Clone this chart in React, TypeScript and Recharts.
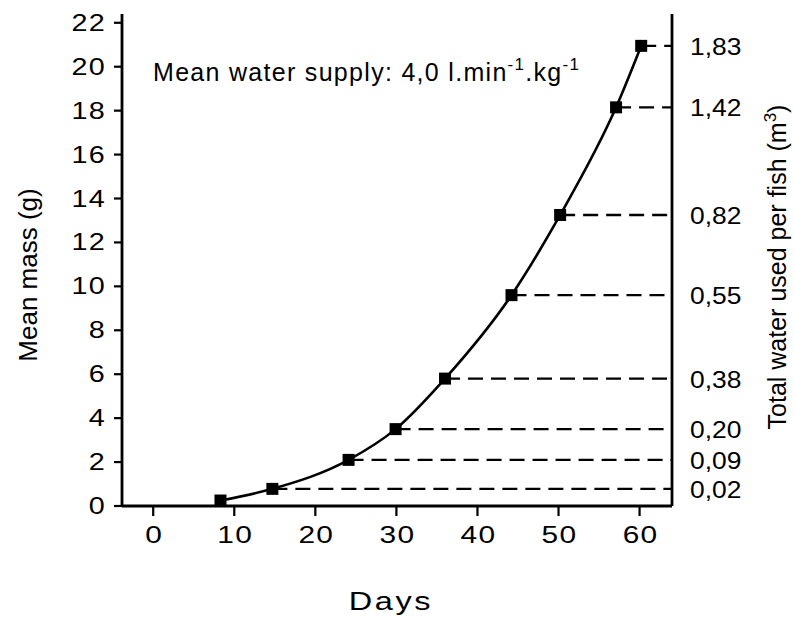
import {
  LineChart,
  Line,
  XAxis,
  YAxis,
  ReferenceLine,
  Customized,
} from "recharts";

const days = [8.3, 14.7, 24.1, 29.9, 36.0, 44.2, 50.2, 57.1, 60.2];
const mass = [0.25, 0.78, 2.1, 3.5, 5.8, 9.6, 13.25, 18.15, 20.95];
const waterUsed = ["", "0,02", "0,09", "0,20", "0,38", "0,55", "0,82", "1,42", "1,83"];
const dayTicks = [0, 10, 20, 30, 40, 50, 60];
const massTicks = [0, 2, 4, 6, 8, 10, 12, 14, 16, 18, 20, 22];

const data = days.map((d, i) => ({ day: d, mass: mass[i] }));

const X_MAX = 64;
const Y_MAX = 22.4;
const FONT = "'Liberation Sans', Arial, sans-serif";

function SquareDot(props: any) {
  const { cx, cy } = props;
  if (cx == null || cy == null) return null;
  return <rect x={cx - 6} y={cy - 6} width={12} height={12} fill="#000" />;
}

// the scan's digits are wide, so the tick text gets stretched sideways
function DayTick(props: any) {
  const { x, y, payload } = props;
  return (
    <text
      transform={`translate(${x + 1},${y + 19}) scale(1.3,1)`}
      textAnchor="middle"
      fontFamily={FONT}
      fontSize={23}
      letterSpacing={1}
      fill="#000"
    >
      {payload.value}
    </text>
  );
}

function MassTick(props: any) {
  const { x, y, payload } = props;
  return (
    <text
      transform={`translate(${x - 2},${y + 8}) scale(1.25,1)`}
      textAnchor="end"
      fontFamily={FONT}
      fontSize={23}
      letterSpacing={1}
      fill="#000"
    >
      {payload.value}
    </text>
  );
}

function WaterTick(props: any) {
  const { x, y, payload } = props;
  return (
    <text
      transform={`translate(${x},${y + 9}) scale(1.1,1)`}
      textAnchor="start"
      fontFamily={FONT}
      fontSize={24}
      fill="#000"
    >
      {waterUsed[mass.indexOf(payload.value)] ?? ""}
    </text>
  );
}

function Notes() {
  return (
    <g fontFamily={FONT} fill="#000">
      <text x={153} y={81} fontSize={25} letterSpacing={1.3}>
        Mean water supply: 4,0 l.min
        <tspan dy={-11} fontSize={17}>-1</tspan>
        <tspan dy={11} fontSize={25}>.kg</tspan>
        <tspan dy={-11} fontSize={17}>-1</tspan>
      </text>
      <text
        transform="translate(391,610) scale(1.3,1)"
        fontSize={25}
        letterSpacing={2}
        textAnchor="middle"
      >
        Days
      </text>
      <text
        transform="translate(37,275) rotate(-90)"
        fontSize={26}
        textAnchor="middle"
      >
        Mean mass (g)
      </text>
      <text
        transform="translate(786,267) rotate(-90)"
        fontSize={25}
        textAnchor="middle"
      >
        Total water used per fish (m
        <tspan dy={-10} fontSize={17}>3</tspan>
        <tspan dy={10}>)</tspan>
      </text>
    </g>
  );
}

export default function App() {
  return (
    <div style={{ position: "absolute", left: 0, top: 0, background: "#fff" }}>
      <LineChart
        width={794}
        height={617}
        data={data}
        margin={{ top: 14, right: 42, bottom: 71, left: 62 }}
      >
        <XAxis
          dataKey="day"
          type="number"
          domain={[-3.85, X_MAX]}
          ticks={dayTicks}
          allowDataOverflow
          tick={<DayTick />}
          tickSize={10}
          tickMargin={8}
          height={40}
          axisLine={{ stroke: "#000", strokeWidth: 2.8 }}
          tickLine={{ stroke: "#000", strokeWidth: 2.2 }}
        />
        <XAxis
          xAxisId="top"
          orientation="top"
          dataKey="day"
          type="number"
          domain={[-3.85, X_MAX]}
          tick={false}
          tickLine={false}
          height={0}
          axisLine={{ stroke: "#000", strokeWidth: 2.8 }}
        />
        <YAxis
          yAxisId="left"
          type="number"
          domain={[0, Y_MAX]}
          ticks={massTicks}
          allowDataOverflow
          tick={<MassTick />}
          tickSize={8}
          tickMargin={6}
          width={60}
          axisLine={{ stroke: "#000", strokeWidth: 2.8 }}
          tickLine={{ stroke: "#000", strokeWidth: 2.2 }}
        />
        <YAxis
          yAxisId="right"
          orientation="right"
          type="number"
          domain={[0, Y_MAX]}
          ticks={mass.slice(1)}
          allowDataOverflow
          interval={0}
          tick={<WaterTick />}
          tickLine={false}
          tickMargin={12}
          width={80}
          axisLine={{ stroke: "#000", strokeWidth: 2.8 }}
        />
        {days.slice(1).map((d, i) => (
          <ReferenceLine
            key={d}
            yAxisId="left"
            segment={[
              { x: d, y: mass[i + 1] },
              { x: X_MAX, y: mass[i + 1] },
            ]}
            stroke="#000"
            strokeWidth={2.4}
            strokeDasharray="15 8"
            ifOverflow="visible"
          />
        ))}
        <Line
          yAxisId="left"
          type="monotone"
          dataKey="mass"
          stroke="#000"
          strokeWidth={2.6}
          dot={<SquareDot />}
          activeDot={false}
          isAnimationActive={false}
        />
        <Customized component={Notes} />
      </LineChart>
    </div>
  );
}
